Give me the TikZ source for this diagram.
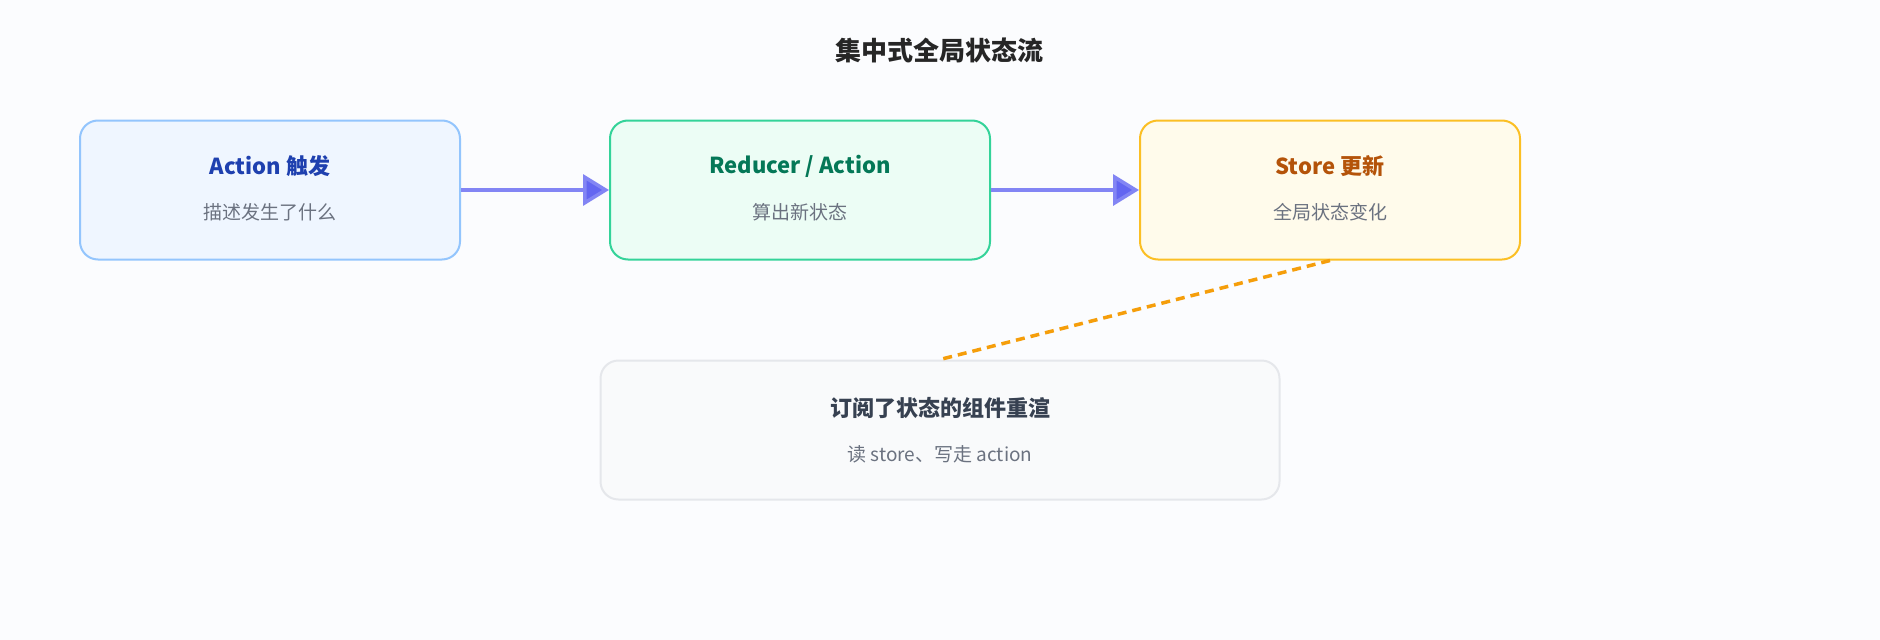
\documentclass[tikz,border=0pt]{standalone}
\usepackage{fontspec}
\setmainfont{Noto Sans CJK SC}
\usetikzlibrary{positioning, arrows.meta}
\definecolor{bgcol}{HTML}{FBFCFE}
\definecolor{arrowcol}{HTML}{6366F1}
\definecolor{dashcol}{HTML}{F59E0B}
\definecolor{subcol}{HTML}{6B7280}
\tikzset{
  stage/.style={draw, line width=2pt, rounded corners=18pt, minimum width=380pt, minimum height=139pt},
  stagetitle/.style={font=\bfseries\fontsize{22}{26}\selectfont},
  stagesub/.style={font=\fontsize{19}{23}\selectfont, text=subcol},
  flow/.style={draw=arrowcol!80, line width=3.5pt, -{Triangle[length=26pt, width=31pt, fill=arrowcol]}},
}
\begin{document}
\begin{tikzpicture}[x=1pt, y=-1pt]
	\fill[bgcol] (0,0) rectangle (1880,640);
	\useasboundingbox (0,0) rectangle (1880,640);

	\node[font=\bfseries\fontsize{26}{30}\selectfont, text=black!85] (title) at (939,50) {集中式全局状态流};

	\node[stage, draw={rgb,255:red,147;green,197;blue,253}, fill={rgb,255:red,239;green,246;blue,255}] (action) at (270,190) {};
	\node[stage, draw={rgb,255:red,52;green,211;blue,153}, fill={rgb,255:red,236;green,253;blue,245}] (reducer) at (800,190) {};
	\node[stage, draw={rgb,255:red,251;green,191;blue,36}, fill={rgb,255:red,255;green,251;blue,235}] (store) at (1330,190) {};
	\node[stage, minimum width=679pt, draw={rgb,255:red,229;green,231;blue,235}, fill={rgb,255:red,249;green,250;blue,251}] (view) at (940,430) {};

	% labels
	\node[stagetitle, text={rgb,255:red,30;green,64;blue,175}] at (270,166) {Action 触发};
	\node[stagesub] at (270,212) {描述发生了什么};
	\node[stagetitle, text={rgb,255:red,4;green,120;blue,87}] at (800,166) {Reducer / Action};
	\node[stagesub] at (800,212) {算出新状态};
	\node[stagetitle, text={rgb,255:red,180;green,83;blue,9}] at (1330,166) {Store 更新};
	\node[stagesub] at (1330,212) {全局状态变化};
	\node[stagetitle, text={rgb,255:red,55;green,65;blue,81}] at (940,408) {订阅了状态的组件重渲};
	\node[stagesub] at (940,454) {读 store、写走 action};

	% connectors
	\draw[flow] (action.east) -- (reducer.west);
	\draw[flow] (reducer.east) -- (store.west);
	\draw[dashcol, line width=3.5pt, dash pattern=on 9pt off 6pt] (store.south) -- (view.north);
\end{tikzpicture}
\end{document}
